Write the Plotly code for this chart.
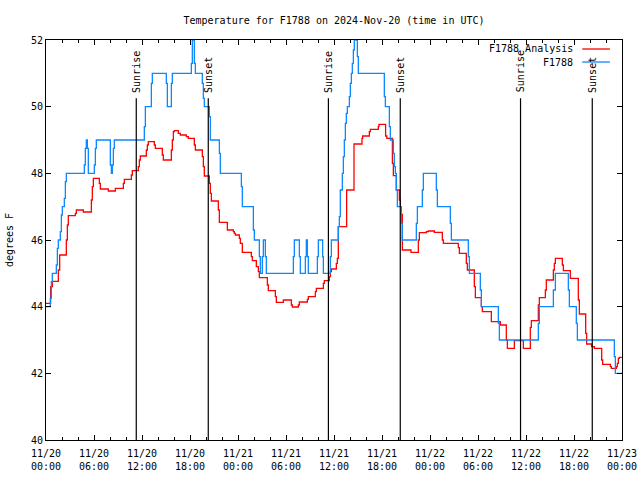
import pandas as pd
import plotly.graph_objects as go

BASE = pd.Timestamp("2024-11-20 00:00")

# F1788 observations: hours since 11/20 00:00 UTC, degrees F
obs_hours = [0.0, 0.54, 0.67, 0.79, 1.29, 1.42, 1.54, 1.79, 1.92, 2.04, 2.29, 2.42, 2.54,
             4.79, 4.92, 5.04, 5.17, 5.29, 6.04, 6.17, 6.29, 8.04, 8.17, 8.29, 8.42, 8.54,
             12.29, 12.42, 13.17, 13.29, 15.04, 15.17, 15.29, 15.67, 15.79,
             18.17, 18.29, 18.54, 18.67, 19.54, 19.67, 19.79, 20.42, 20.54, 21.67, 21.79,
             24.42, 24.54, 25.92, 26.04, 26.67, 26.79, 27.04, 27.17, 27.42, 27.54,
             30.92, 31.04, 31.67, 31.79, 32.42, 32.54, 32.67, 32.79, 33.92, 34.04, 34.58, 34.67,
             35.54, 35.67, 36.54, 36.67, 36.79, 37.04, 37.17, 37.29, 37.42, 37.54, 37.67, 37.92,
             38.04, 38.17, 38.29, 38.42, 38.54, 38.92, 39.04,
             42.29, 42.42, 42.92, 43.04, 43.42, 43.54, 43.67, 43.79, 43.92, 44.42, 44.54,
             46.29, 46.42, 47.04, 47.17, 48.79, 48.92, 50.54, 50.67, 52.79, 52.92, 54.29, 54.42,
             56.54, 56.67, 61.54, 61.67, 63.42, 63.67, 65.29, 65.42, 66.29, 66.42, 71.04, 71.17, 72.0]
obs_temps = [44.0, 44.25, 44.75, 45.0, 45.25, 45.75, 46.0, 46.25, 46.75, 47.0, 47.25, 47.75, 48.0,
             48.25, 48.75, 49.0, 48.75, 48.0, 48.25, 48.75, 49.0, 48.25, 48.0, 48.25, 48.75, 49.0,
             49.4, 50.0, 50.7, 51.0, 50.7, 50.0, 50.0, 50.7, 51.0,
             51.3, 52.0, 51.3, 51.0, 50.7, 50.25, 50.0, 49.7, 49.0, 48.6, 48.0,
             47.6, 47.0, 46.3, 46.0, 45.5, 45.0, 45.5, 46.0, 45.5, 45.0,
             45.5, 46.0, 45.5, 45.0, 45.5, 46.0, 45.5, 45.0, 45.5, 46.0, 45.5, 45.0,
             45.5, 46.0, 46.4, 46.7, 47.5, 48.0, 48.5, 49.0, 49.5, 49.8, 50.0, 50.3,
             50.7, 51.0, 51.3, 51.7, 52.0, 51.5, 51.0,
             50.3, 50.0, 49.4, 49.0, 48.6, 48.2, 48.0, 47.5, 47.0, 46.5, 46.0,
             46.5, 47.0, 47.5, 48.0, 47.5, 47.0, 46.5, 46.0, 45.5, 45.0, 44.5, 44.0,
             43.5, 43.0, 43.5, 44.0, 44.5, 45.0, 44.5, 44.0, 43.5, 43.0, 42.5, 42.0, 42.0]

# F1788 Analysis
ana_hours = [0.0, 0.58, 0.79, 1.54, 1.71, 2.54, 2.67, 2.79, 3.67, 3.79, 4.67, 5.67, 5.79, 5.92,
             6.67, 6.79, 7.79, 8.67, 9.67, 9.79, 10.67, 10.79, 11.54, 11.67, 11.79, 12.54, 12.67,
             12.79, 13.54, 13.67, 14.54, 14.67, 15.67, 15.79, 15.92, 16.04, 16.54, 16.79, 17.54,
             17.79, 18.54, 18.67, 19.54, 19.67, 19.79, 20.42, 20.54, 20.67, 21.54, 21.67, 22.67,
             23.42, 23.54, 23.67, 24.17, 24.29, 24.54, 25.67, 25.79, 26.29, 26.54, 26.67, 27.67,
             27.79, 28.67, 28.79, 29.67, 30.67, 30.79, 31.54, 31.67, 32.67, 32.79, 33.67, 33.79,
             34.67, 34.79, 35.42, 35.54, 35.67, 36.29, 36.42, 36.54, 37.58, 38.5, 39.5, 39.58,
             40.42, 40.54, 41.54, 41.62, 42.45, 42.6, 43.3, 43.42, 43.79, 44.17, 44.29, 44.42,
             44.54, 45.62, 46.54, 46.67, 47.54, 47.79, 48.54, 49.54, 49.67, 51.54, 51.67, 52.54,
             52.67, 53.54, 53.67, 54.42, 54.54, 55.67, 56.79, 57.54, 57.67, 58.54, 59.67, 60.54,
             60.67, 61.54, 61.67, 62.42, 62.54, 63.42, 63.54, 63.67, 64.54, 64.67, 65.54, 66.54,
             66.67, 67.46, 67.58, 68.21, 68.54, 69.46, 69.58, 70.54, 70.67, 71.29, 71.42, 71.54,
             71.67, 71.9]
ana_temps = [44.1, 44.6, 44.76, 45.1, 45.55, 46.0, 46.45, 46.73, 46.8, 46.9, 46.84, 47.2, 47.6, 47.85,
             47.7, 47.53, 47.47, 47.55, 47.7, 47.82, 47.95, 48.08, 48.2, 48.4, 48.52, 48.7, 48.85,
             48.95, 48.85, 48.75, 48.55, 48.4, 48.7, 49.0, 49.25, 49.28, 49.2, 49.15, 49.1,
             49.05, 48.85, 48.7, 48.5, 48.2, 47.92, 47.7, 47.4, 47.17, 46.9, 46.53, 46.3,
             46.25, 46.2, 46.15, 46.05, 45.9, 45.63, 45.5, 45.38, 45.2, 45.05, 44.87, 44.65,
             44.48, 44.3, 44.13, 44.2, 44.05, 43.99, 44.05, 44.14, 44.22, 44.3, 44.45, 44.55,
             44.7, 44.78, 44.9, 45.05, 45.13, 45.3, 45.45, 46.4, 47.5, 48.88, 49.05, 49.12,
             49.25, 49.32, 49.4, 49.47, 49.12, 49.05, 48.3, 47.93, 47.5, 47.2, 47.0, 46.77,
             45.7, 45.63, 46.0, 46.22, 46.25, 46.27, 46.23, 46.0, 45.9, 45.77, 45.6, 45.3,
             45.1, 44.6, 44.27, 44.0, 43.85, 43.55, 43.45, 43.0, 42.75, 42.98, 42.75, 43.38,
             43.58, 44.05, 44.27, 44.5, 44.8, 45.1, 45.3, 45.45, 45.25, 45.08, 44.85, 44.2,
             43.78, 43.2, 42.88, 42.8, 42.75, 42.4, 42.27, 42.2, 42.15, 42.2, 42.3, 42.45,
             42.48, 42.5]

sun_times = ["2024-11-20 11:17", "2024-11-20 20:17", "2024-11-21 11:18",
             "2024-11-21 20:17", "2024-11-22 11:19", "2024-11-22 20:17"]
sun_labels = ["Sunrise", "Sunset", "Sunrise", "Sunset", "Sunrise", "Sunset"]
sun_line_top = 50.25

series_names = ["F1788 Analysis", "F1788"]
series_colors = ["#ff0000", "#0a88ff"]

FONT = "DejaVu Sans Mono"

obs_x = [BASE + pd.Timedelta(hours=h) for h in obs_hours]
ana_x = [BASE + pd.Timedelta(hours=h) for h in ana_hours]

fig = go.Figure()
fig.add_trace(go.Scatter(x=ana_x, y=ana_temps, mode="lines", name=series_names[0],
                         line=dict(color=series_colors[0], width=1.3, shape="hv")))
fig.add_trace(go.Scatter(x=obs_x, y=obs_temps, mode="lines", name=series_names[1],
                         line=dict(color=series_colors[1], width=1.3, shape="hv")))

for t, lab in zip(sun_times, sun_labels):
    fig.add_shape(type="line", xref="x", yref="y", x0=t, x1=t, y0=40, y1=sun_line_top,
                  line=dict(color="black", width=1.2))
    fig.add_annotation(x=t, y=50.36, xref="x", yref="y", text=lab, textangle=-90,
                       showarrow=False, xanchor="center", yanchor="bottom",
                       font=dict(family=FONT, size=10, color="black"))

# custom gnuplot-style legend (text right, sample line to its right)
leg_y = [0.9775, 0.945]
for name, col, yy in zip(series_names, series_colors, leg_y):
    fig.add_annotation(x=0.918, y=yy, xref="paper", yref="paper", text=name,
                       showarrow=False, xanchor="right", yanchor="middle",
                       font=dict(family=FONT, size=10, color="black"))
    fig.add_shape(type="line", xref="paper", yref="paper", x0=0.931, x1=0.979,
                  y0=yy, y1=yy, line=dict(color=col, width=1.3))

fig.update_layout(
    width=640, height=480,
    margin=dict(l=46, r=18, t=40, b=40, autoexpand=False),
    paper_bgcolor="white", plot_bgcolor="white",
    showlegend=False,
    font=dict(family=FONT, size=10, color="black"),
    title=dict(text="Temperature for F1788 on 2024-Nov-20 (time in UTC)",
               x=0.5, xref="paper", xanchor="center",
               y=1 - 20 / 480, yref="container", yanchor="middle",
               font=dict(family=FONT, size=10, color="black")),
)
fig.update_xaxes(
    range=["2024-11-20 00:00", "2024-11-23 00:00"],
    tick0="2024-11-20 00:00", dtick=6 * 3600 * 1000,
    tickformat="%m/%d<br>%H:%M",
    ticks="inside", ticklen=5, tickcolor="black", tickwidth=1,
    ticklabelstandoff=4,
    minor=dict(dtick=2 * 3600 * 1000, ticks="inside", ticklen=3, tickcolor="black"),
    showline=True, linecolor="black", linewidth=1, mirror="ticks",
    showgrid=False, zeroline=False, automargin=False,
    tickfont=dict(family=FONT, size=10, color="black"),
)
fig.update_yaxes(
    range=[40, 52], dtick=2, tick0=40,
    ticks="inside", ticklen=5, tickcolor="black",
    showline=True, linecolor="black", linewidth=1, mirror="ticks",
    showgrid=False, zeroline=False, automargin=False,
    title=dict(text="degrees F", font=dict(family=FONT, size=10, color="black"), standoff=15),
    tickfont=dict(family=FONT, size=10, color="black"),
)

fig.write_html("out.html", config={"displayModeBar": False},
               post_script="document.body.style.margin='0';")
